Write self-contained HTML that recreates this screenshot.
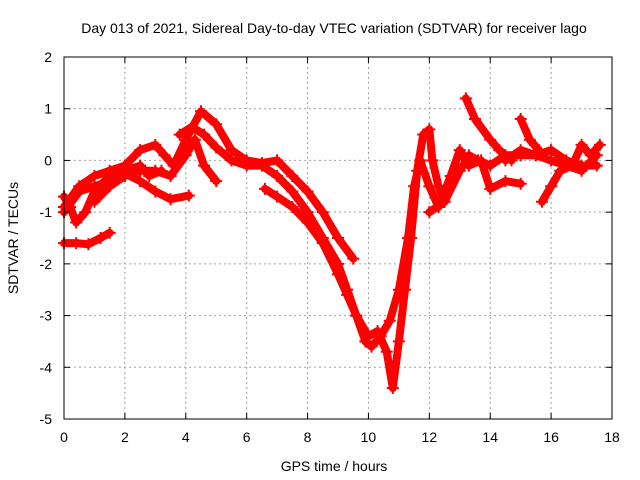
<!DOCTYPE html>
<html><head><meta charset="utf-8"><style>
html,body{margin:0;padding:0;background:#fff;width:640px;height:480px;overflow:hidden}
svg text{font-family:"Liberation Sans",sans-serif;font-size:14px;fill:#000}
</style></head><body>
<svg id="chart" width="640" height="480" viewBox="0 0 640 480" xmlns="http://www.w3.org/2000/svg">
<g id="grid"></g>
<g id="series"></g>
<rect x="64" y="57" width="548" height="362" fill="none" stroke="#000" stroke-width="1"/>
<g id="ticks"></g>
<text x="334" y="33" text-anchor="middle">Day 013 of 2021, Sidereal Day-to-day VTEC variation (SDTVAR) for receiver lago</text>
<text x="334" y="471" text-anchor="middle">GPS time / hours</text>
<text x="18" y="238" text-anchor="middle" transform="rotate(-90 18 238)">SDTVAR / TECUs</text>
</svg>
<script>
const xTicks=[0,2,4,6,8,10,12,14,16,18];
const yTicks=[2,1,0,-1,-2,-3,-4,-5];
const s1=[[0,-1.6],[0.4,-1.6],[0.8,-1.62],[1.2,-1.5],[1.5,-1.4]];
const s2=[[0,-0.7],[0.2,-0.9],[0.4,-1.2],[0.7,-1.0],[1.0,-0.6],[1.5,-0.3],[2.0,-0.2],[2.5,-0.1],[2.8,-0.3],[3.2,-0.2]];
const s3=[[0,-1.0],[0.5,-0.6],[1.0,-0.5],[1.5,-0.4],[2.0,-0.25],[2.5,-0.4],[3.0,-0.6],[3.5,-0.75],[4.1,-0.68]];
const s4=[[0,-0.9],[0.5,-0.5],[1.0,-0.3],[1.5,-0.2],[2.0,-0.1],[2.5,0.2],[3.0,0.3],[3.3,0.1],[3.6,-0.1],[4.0,0.4],[4.5,0.95],[5.0,0.7],[5.5,0.2],[6.0,0.0],[6.5,-0.05],[7.0,0.0],[7.5,-0.3],[8.0,-0.6],[8.5,-1.0],[9.0,-1.5],[9.5,-1.9]];
const s5=[[1.0,-0.8],[1.5,-0.5],[2.0,-0.3],[2.5,-0.2],[3.0,-0.2],[3.5,-0.3],[4.0,0.1],[4.3,0.4],[4.6,-0.1],[5.0,-0.4]];
const s6=[[3.8,0.5],[4.2,0.65],[4.6,0.5],[5.0,0.25],[5.5,0.0],[6.0,-0.1],[6.5,-0.1],[7.0,-0.3],[7.5,-0.6],[8.0,-1.0],[8.5,-1.5],[9.0,-2.0],[9.3,-2.5],[9.6,-3.0],[9.9,-3.5],[10.1,-3.6],[10.4,-3.4],[10.7,-3.1],[11.0,-2.5],[11.3,-1.5],[11.5,-0.5],[11.7,0.0],[12.0,-0.5],[12.3,-0.9]];
const s7=[[6.6,-0.55],[7.0,-0.7],[7.5,-0.9],[8.0,-1.2],[8.5,-1.6],[9.0,-2.2],[9.3,-2.6],[9.6,-3.0],[10.0,-3.4],[10.3,-3.3],[10.6,-3.7],[10.8,-4.4],[11.0,-3.5],[11.2,-2.5],[11.4,-1.5],[11.6,-0.2],[11.8,0.5],[12.0,0.6],[12.1,0.0],[12.3,-0.5],[12.5,-0.8]];
const s8=[[12.0,-1.0],[12.5,-0.8],[13.0,-0.2],[13.3,0.1],[13.6,0.0],[14.0,-0.1],[14.5,0.1],[15.0,0.1],[15.5,0.1],[16.0,0.0],[16.5,-0.1],[17.0,-0.2],[17.5,0.1]];
const s9=[[12.3,-0.9],[12.7,-0.3],[13.0,0.2],[13.3,-0.1],[13.7,0.0],[14.0,-0.55],[14.5,-0.4],[15.0,-0.45]];
const s10=[[13.2,1.2],[13.5,0.8],[14.0,0.4],[14.3,0.2],[14.7,0.0]];
const s11=[[15.0,0.8],[15.3,0.4],[15.6,0.2]];
const s12=[[15.7,-0.8],[16.0,-0.5],[16.3,-0.2],[16.7,-0.1],[17.0,0.3],[17.3,0.1],[17.6,0.3]];
const s13=[[14.5,0.0],[15.0,0.2],[15.5,0.1],[16.0,0.2],[16.5,0.0],[17.0,-0.1],[17.5,-0.1]];
const allSeries=[s1,s2,s3,s4,s5,s6,s7,s8,s9,s10,s11,s12,s13];

const NS='http://www.w3.org/2000/svg';
const X0=64,X1=612,Y0=419,Y1=57;
function xs(h){return X0+(h-0)/(18-0)*(X1-X0);}
function ys(v){return Y0-(v-(-5))/(2-(-5))*(Y0-Y1);}
function mk(tag,attrs,parent){const e=document.createElementNS(NS,tag);for(const k in attrs)e.setAttribute(k,attrs[k]);parent.appendChild(e);return e;}
const grid=document.getElementById('grid'),ticks=document.getElementById('ticks'),ser=document.getElementById('series');
xTicks.forEach(t=>{
  const x=xs(t);
  if(t>0&&t<18){const g=mk('line',{x1:x,x2:x,y1:Y1,y2:Y0,stroke:'#a0a0a0','stroke-dasharray':'2,3'},grid);
  
  }
  const l=mk('line',{x1:x,x2:x,y1:Y0,y2:Y0-6,stroke:'#000'},ticks);
  
  
  const l2=mk('line',{x1:x,x2:x,y1:Y1,y2:Y1+6,stroke:'#000'},ticks);
  
  
  const tx=mk('text',{x:x,y:442,'text-anchor':'middle'},ticks);tx.textContent=t;
  
  
});
yTicks.forEach(t=>{
  const y=ys(t);
  if(t<2&&t>-5){const g=mk('line',{x1:X0,x2:X1,y1:y,y2:y,stroke:'#a0a0a0','stroke-dasharray':'2,3'},grid);
  
  }
  const l=mk('line',{x1:X0,x2:X0+6,y1:y,y2:y,stroke:'#000'},ticks);
  
  
  const l2=mk('line',{x1:X1,x2:X1-6,y1:y,y2:y,stroke:'#000'},ticks);
  
  
  const tx=mk('text',{x:52,y:y+5,'text-anchor':'end'},ticks);tx.textContent=t;
  
  
});
allSeries.forEach((s,i)=>{
  const g=mk('g',{},ser);
  
  
  const pl=mk('polyline',{points:s.map(p=>xs(p[0])+','+ys(p[1])).join(' '),fill:'none',stroke:'#f00','stroke-width':8,'stroke-linejoin':'round','stroke-linecap':'round'},g);
  
  
  s.forEach(p=>{
    const x=xs(p[0]),y=ys(p[1]);
    const m=mk('path',{d:`M${x-6},${y}H${x+6}M${x},${y-6}V${y+6}`,stroke:'#f00','stroke-width':2},g);
    
    
  });
});
</script>
</body></html>
